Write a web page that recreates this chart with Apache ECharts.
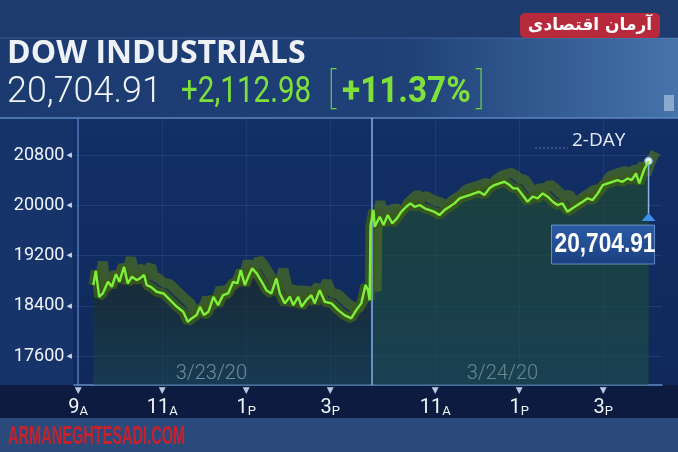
<!DOCTYPE html>
<html>
<head>
<meta charset="utf-8">
<title>DOW INDUSTRIALS 2-DAY</title>
<script src="https://cdn.jsdelivr.net/npm/echarts@6/dist/echarts.min.js"></script>
<style>
  html, body { margin: 0; padding: 0; background: #112d62; }
  #main { width: 678px; height: 452px; }
</style>
</head>
<body>
<div id="main"></div>
<script>
// x = session hours counted from 9:00 on 3/23, overnight removed (3/24 opens at 7.0)
const day1Times = [0.36, 0.42, 0.50, 0.59, 0.71, 0.80, 0.90, 0.98, 1.09, 1.18, 1.28, 1.39, 1.47, 1.57, 1.63, 1.73,
  1.87, 2.03, 2.19, 2.35, 2.50, 2.61, 2.70, 2.82, 2.90, 2.99, 3.10, 3.22, 3.33, 3.45, 3.57, 3.69, 3.79, 3.87,
  3.97, 4.05, 4.14, 4.25, 4.37, 4.48, 4.60, 4.72, 4.80, 4.92, 5.04, 5.12, 5.24, 5.32, 5.43, 5.55, 5.63, 5.75,
  5.87, 6.03, 6.19, 6.34, 6.50, 6.62, 6.74, 6.84, 6.90, 6.94];
const day1Values = [18730, 18958, 18544, 18603, 18783, 18703, 18905, 18783, 19022, 18757, 18863, 18810, 18837, 18890, 18730, 18703,
  18624, 18597, 18490, 18385, 18305, 18146, 18200, 18253, 18385, 18253, 18305, 18544, 18412, 18571, 18597, 18783, 18757, 18969,
  18730, 18863, 18996, 18916, 18783, 18650, 18597, 18837, 18597, 18439, 18544, 18412, 18544, 18385, 18490, 18571, 18439, 18650,
  18465, 18439, 18332, 18253, 18200, 18332, 18439, 18730, 18650, 18490];
const day2Times = [6.96, 7.03, 7.06, 7.18, 7.27, 7.37, 7.48, 7.59, 7.69, 7.81, 7.91, 8.01, 8.13, 8.25, 8.37, 8.48, 8.60,
  8.72, 8.84, 8.96, 9.08, 9.20, 9.32, 9.43, 9.55, 9.67, 9.79, 9.91, 10.03, 10.15, 10.27, 10.36, 10.46, 10.58,
  10.70, 10.82, 10.94, 11.06, 11.18, 11.30, 11.41, 11.53, 11.65, 11.77, 11.89, 12.01, 12.13, 12.25, 12.37,
  12.49, 12.61, 12.72, 12.84, 12.96, 13.08, 13.18, 13.28, 13.36, 13.47, 13.58];
const day2Values = [19685, 19924, 19658, 19817, 19685, 19845, 19714, 19793, 19897, 19977, 20031, 19977, 20004, 19952, 19924, 19897, 19845,
  19924, 19977, 20031, 20111, 20137, 20163, 20190, 20216, 20163, 20270, 20323, 20350, 20375, 20323, 20270, 20270, 20163,
  20057, 20137, 20111, 20190, 20137, 20057, 20004, 20031, 19897, 19952, 20004, 20057, 20111, 20084, 20190,
  20323, 20350, 20375, 20402, 20375, 20429, 20402, 20508, 20350, 20562, 20704.91];

const yTicks = [17600, 18400, 19200, 20000, 20800];
const xTicks = [0, 2, 4, 6, 8.5, 10.5, 12.5];
const xTickHours = ['9', '11', '1', '3', '11', '1', '3'];
const xTickSuffix = ['A', 'A', 'P', 'P', 'A', 'P', 'P'];
const dateTicks = [3.17, 10.1];
const dateLabels = ['3/23/20', '3/24/20'];
const sessionBreak = 7.0;

const lastLabel = '20,704.91';
const changeLabel = '+2,112.98';
const pctLabel = '+11.37%';

const day1 = day1Times.map((t, i) => [t, day1Values[i]]);
const day2 = day2Times.map((t, i) => [t, day2Values[i]]);
const both = day1.concat(day2);
const lastPoint = both[both.length - 1];

const chart = echarts.init(document.getElementById('main'));

function grad(stops) {
  return new echarts.graphic.LinearGradient(0, 0, 0, 1, stops);
}

const staticGraphics = [
  // background bands
  { type: 'rect', z: -10, shape: { x: 0, y: 0, width: 678, height: 38 }, style: { fill: '#1d3b6c' } },
  { type: 'rect', z: -10, shape: { x: 0, y: 38, width: 678, height: 80 },
    style: { fill: new echarts.graphic.LinearGradient(0, 0, 1, 0, [
      { offset: 0, color: '#1b3a70' }, { offset: 0.6, color: '#1f4178' }, { offset: 1, color: '#4573aa' }]) } },
  { type: 'line', z: -9, shape: { x1: 0, y1: 38, x2: 678, y2: 38 }, style: { stroke: 'rgba(120,160,210,0.35)', lineWidth: 1 } },
  { type: 'rect', z: -10, shape: { x: 0, y: 118, width: 678, height: 267 },
    style: { fill: grad([{ offset: 0, color: '#122f66' }, { offset: 1, color: '#10295a' }]) } },
  { type: 'rect', z: -10, shape: { x: 0, y: 118, width: 73, height: 267 }, style: { fill: '#17346a' } },
  { type: 'rect', z: -10, shape: { x: 0, y: 385, width: 678, height: 33 }, style: { fill: '#0c1b3f' } },
  { type: 'rect', z: -10, shape: { x: 0, y: 418, width: 678, height: 34 }, style: { fill: '#2a4a7c' } },
  { type: 'line', z: -9, shape: { x1: 0, y1: 118, x2: 678, y2: 118 }, style: { stroke: '#5b86c0', lineWidth: 1.5 } },
  { type: 'rect', z: -9, shape: { x: 664, y: 95, width: 10, height: 16 }, style: { fill: 'rgba(200,215,235,0.55)' } },

  // red badge
  { type: 'rect', z: 50, shape: { x: 520, y: 13, width: 140, height: 25, r: 5 }, style: { fill: '#b72a3b' } },
  { type: 'text', z: 51, x: 590, y: 25.5,
    style: { text: 'آرمان اقتصادی', fill: '#ffffff', font: 'bold 17px "DejaVu Sans"', align: 'center', verticalAlign: 'middle' } },

  // header
  { type: 'text', z: 50, x: 7, y: 54,
    style: { text: 'DOW INDUSTRIALS', fill: '#eef2f7', font: 'bold 32px "Open Sans"', verticalAlign: 'middle' } },
  { type: 'text', z: 50, x: 7, y: 93, scaleX: 0.97,
    style: { text: lastLabel, fill: '#f0f3f8', font: '300 37px Roboto', verticalAlign: 'middle' } },
  { type: 'text', z: 50, x: 181, y: 93, scaleX: 0.8,
    style: { text: changeLabel, fill: '#7fe03c', font: '400 37px Roboto', verticalAlign: 'middle' } },
  { type: 'text', z: 50, x: 327, y: 92,
    style: { text: '[', fill: '#6fd23f', font: '100 42px Roboto', verticalAlign: 'middle' } },
  { type: 'text', z: 50, x: 342, y: 93, scaleX: 0.9,
    style: { text: pctLabel, fill: '#7fe03c', font: 'bold 37px Roboto', verticalAlign: 'middle' } },
  { type: 'text', z: 50, x: 476, y: 92,
    style: { text: ']', fill: '#6fd23f', font: '100 42px Roboto', verticalAlign: 'middle' } },

  // 2-DAY tag
  { type: 'line', z: 50, shape: { x1: 535, y1: 148, x2: 568, y2: 148 },
    style: { stroke: 'rgba(170,190,220,0.5)', lineWidth: 1, lineDash: [2, 2] } },
  { type: 'text', z: 50, x: 572, y: 141,
    style: { text: '2-DAY', fill: '#e4ebf6', font: '19px "Open Sans"', verticalAlign: 'middle' } },

  // footer watermark
  { type: 'text', z: 50, x: 8, y: 437, scaleX: 0.56,
    style: { text: 'ARMANEGHTESADI.COM', fill: '#c7222c', font: 'bold 26px "Liberation Sans"', verticalAlign: 'middle' } }
];

chart.setOption({
  animation: false,
  backgroundColor: '#112d62',
  grid: { left: 74, right: 16, top: 118, bottom: 67 },
  xAxis: [{
    type: 'value', min: -0.1, max: 13.9,
    axisLine: { show: true, lineStyle: { color: '#5f8cc9', width: 1.5 } },
    axisTick: { show: false, customValues: xTicks },
    splitLine: { show: true, lineStyle: { color: 'rgba(110,150,210,0.13)', width: 1 } },
    axisLabel: {
      customValues: xTicks, margin: 0,
      formatter: v => {
        const i = xTicks.findIndex(t => Math.abs(t - v) < 1e-6);
        return '{t|▼}\n{n|' + xTickHours[i] + '}{s|' + xTickSuffix[i] + '}';
      },
      rich: {
        t: { fontSize: 9, lineHeight: 11, color: '#b9c9e2', fontFamily: 'DejaVu Sans', align: 'center' },
        n: { fontSize: 20, lineHeight: 22, color: '#f2f5fa', fontFamily: 'Roboto', verticalAlign: 'bottom' },
        s: { fontSize: 13, lineHeight: 22, color: '#f2f5fa', fontFamily: 'Roboto', verticalAlign: 'bottom' }
      }
    }
  }, {
    type: 'value', min: -0.1, max: 13.9, position: 'bottom',
    axisLine: { show: false }, axisTick: { show: false }, splitLine: { show: false },
    axisLabel: {
      inside: true, margin: 1, customValues: dateTicks,
      formatter: v => dateLabels[dateTicks.findIndex(t => Math.abs(t - v) < 1e-6)],
      color: '#cfdcf0', fontSize: 20, fontFamily: 'Roboto', fontWeight: 300
    }
  }],
  yAxis: {
    type: 'value', min: 17140, max: 21390,
    axisLine: { show: true, lineStyle: { color: '#4d77b6', width: 1.5 } },
    axisTick: { show: false, customValues: yTicks },
    splitLine: { show: true, lineStyle: { color: 'rgba(110,150,210,0.16)', width: 1 } },
    axisLabel: {
      customValues: yTicks, margin: 2,
      formatter: v => '{v|' + v + '}{a| ◀}',
      rich: {
        v: { fontSize: 18, color: '#eef3fa', fontFamily: 'Roboto' },
        a: { fontSize: 7, color: '#c7d4ea', fontFamily: 'DejaVu Sans' }
      }
    }
  },
  series: [
    {
      name: '3/23 fill', type: 'line', data: day1, symbol: 'none', silent: true, z: 2,
      lineStyle: { width: 0 },
      areaStyle: { origin: 'start', color: grad([
        { offset: 0, color: 'rgba(28,40,34,0.96)' }, { offset: 0.55, color: 'rgba(26,54,52,0.85)' },
        { offset: 1, color: 'rgba(30,74,76,0.75)' }]) }
    },
    {
      name: '3/24 fill', type: 'line', data: day2, symbol: 'none', silent: true, z: 2,
      lineStyle: { width: 0 },
      areaStyle: { origin: 'start', color: grad([
        { offset: 0, color: 'rgba(30,72,44,0.97)' }, { offset: 0.6, color: 'rgba(30,76,60,0.9)' },
        { offset: 1, color: 'rgba(32,80,76,0.85)' }]) }
    },
    {
      name: 'ribbon', type: 'line', data: both, symbol: 'none', silent: true, z: 3,
      lineStyle: { width: 10, color: 'rgba(60,92,26,0.85)', shadowColor: 'rgba(76,112,30,0.8)',
        shadowBlur: 0, shadowOffsetX: 7, shadowOffsetY: -9 }
    },
    {
      name: 'DOW', type: 'line', data: both, symbol: 'none', z: 5,
      lineStyle: { width: 2.4, color: '#7ef03c' },
      markLine: {
        silent: true, symbol: 'none', label: { show: false },
        lineStyle: { color: '#86acdf', width: 1.5, type: 'solid' },
        data: [{ xAxis: sessionBreak }]
      },
      markPoint: {
        silent: true, symbol: 'circle', symbolSize: 7,
        itemStyle: { color: '#f4f8ff', borderColor: '#8fb8ee', borderWidth: 1.5 },
        label: { show: false },
        data: [{ coord: lastPoint }]
      }
    }
  ],
  graphic: staticGraphics
});

// last-price marker hangs below the final point
const p = chart.convertToPixel({ gridIndex: 0 }, lastPoint);
chart.setOption({
  graphic: staticGraphics.concat([
    { type: 'line', z: 40, shape: { x1: p[0], y1: p[1] + 4, x2: p[0], y2: p[1] + 54 },
      style: { stroke: '#8db4ea', lineWidth: 1.5 } },
    { type: 'polygon', z: 40, shape: { points: [[p[0] - 7, p[1] + 60], [p[0] + 7, p[1] + 60], [p[0], p[1] + 52]] },
      style: { fill: '#3d8ff0' } },
    { type: 'rect', z: 40, shape: { x: p[0] - 97, y: p[1] + 64, width: 103, height: 39 },
      style: { fill: grad([{ offset: 0, color: '#2b5ca6' }, { offset: 1, color: '#1b3f80' }]),
        stroke: 'rgba(150,190,240,0.6)', lineWidth: 1 } },
    { type: 'text', z: 41, x: p[0] - 94, y: p[1] + 84, scaleX: 0.84,
      style: { text: lastLabel, fill: '#ffffff', font: 'bold 27px "Liberation Sans"', verticalAlign: 'middle' } }
  ])
});
</script>
</body>
</html>
